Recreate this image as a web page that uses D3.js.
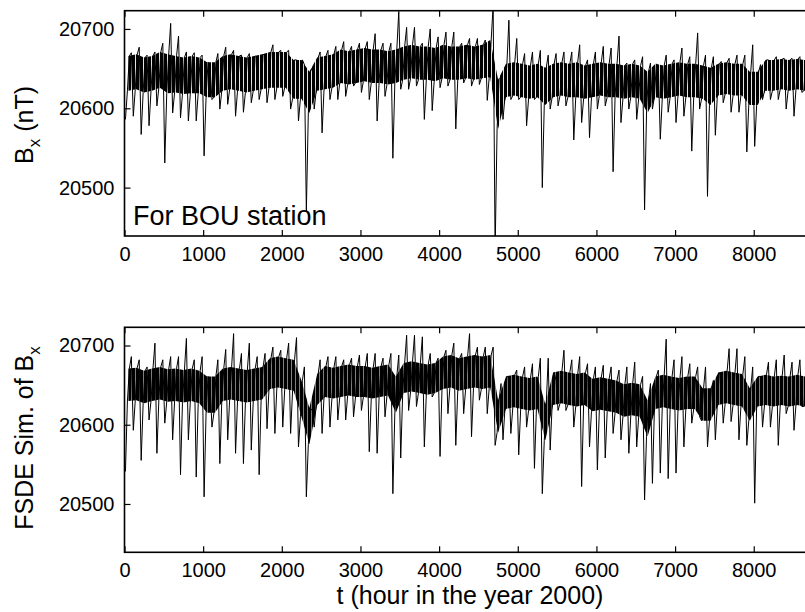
<!DOCTYPE html>
<html>
<head>
<meta charset="utf-8">
<script src="https://cdn.jsdelivr.net/npm/d3@7"></script>
<style>
  body { margin: 0; background: #fff; }
  svg { display: block; font-family: "Liberation Sans", Arial, Helvetica, sans-serif; }
</style>
</head>
<body>
<div id="chart"></div>
<script>
// hourly record binned per 100 h (bin start hours)
const hours = d3.range(0, 8800, 100);

// observed Bx at BOU (nT): extremes and dense core per bin
const bouMax = [20670,20677,20667,20671,20682,20707,20691,20671,20670,20667,
  20653,20669,20677,20673,20667,20669,20665,20667,20680,20673,
  20673,20661,20655,20651,20671,20673,20678,20684,20678,20682,
  20684,20694,20682,20682,20722,20702,20702,20682,20700,20690,
  20696,20696,20682,20688,20688,20686,20730,20640,20711,20688,
  20669,20671,20673,20667,20669,20671,20671,20680,20661,20671,
  20678,20676,20691,20657,20661,20665,20657,20653,20667,20661,
  20676,20665,20695,20667,20665,20659,20663,20667,20667,20680,
  20655,20661,20665,20663,20663,20665,20673,20670];
const bouMin = [20586,20590,20567,20578,20603,20531,20594,20588,20584,20584,
  20540,20611,20599,20605,20590,20595,20607,20611,20607,20611,
  20615,20599,20584,20470,20599,20569,20611,20611,20615,20628,
  20620,20611,20584,20615,20537,20624,20624,20628,20586,20597,
  20626,20628,20574,20632,20628,20630,20610,20420,20586,20611,
  20611,20578,20611,20500,20599,20603,20603,20560,20582,20563,
  20599,20603,20520,20582,20599,20586,20472,20599,20561,20595,
  20582,20590,20546,20599,20489,20566,20607,20595,20595,20545,
  20552,20611,20611,20611,20599,20590,20620,20615];
const bouCoreHi = [20666,20668,20664,20666,20671,20668,20666,20664,20666,20664,
  20658,20658,20666,20668,20666,20664,20666,20668,20671,20671,
  20671,20661,20661,20646,20664,20666,20668,20674,20672,20674,
  20676,20674,20674,20672,20674,20678,20680,20678,20678,20676,
  20680,20678,20678,20680,20678,20680,20686,20636,20656,20658,
  20656,20654,20656,20651,20656,20658,20656,20658,20654,20656,
  20658,20656,20656,20654,20656,20654,20646,20656,20654,20656,
  20658,20656,20656,20654,20651,20656,20658,20656,20656,20646,
  20646,20661,20661,20662,20661,20662,20661,20661];
const bouCoreLo = [20622,20624,20620,20622,20626,20619,20620,20618,20619,20619,
  20614,20614,20622,20624,20622,20620,20622,20624,20626,20626,
  20626,20612,20612,20594,20622,20624,20626,20632,20630,20632,
  20634,20632,20632,20630,20632,20636,20638,20636,20636,20634,
  20638,20636,20636,20638,20636,20638,20639,20574,20614,20616,
  20614,20612,20614,20604,20614,20616,20614,20614,20612,20614,
  20616,20614,20614,20612,20614,20612,20594,20614,20612,20614,
  20616,20614,20614,20612,20604,20616,20618,20616,20616,20604,
  20604,20622,20622,20624,20622,20624,20622,20622];

// FSDE simulation of Bx (nT)
const simMax = [20686,20682,20673,20703,20682,20686,20686,20709,20682,20686,
  20652,20682,20695,20715,20690,20703,20686,20690,20698,20694,
  20703,20710,20673,20618,20682,20686,20686,20682,20684,20688,
  20690,20690,20684,20690,20688,20713,20713,20711,20690,20684,
  20694,20703,20690,20715,20698,20698,20698,20652,20661,20669,
  20673,20677,20684,20684,20656,20694,20682,20686,20677,20673,
  20675,20673,20669,20673,20679,20661,20652,20669,20708,20682,
  20686,20677,20673,20673,20656,20661,20696,20696,20686,20673,
  20661,20679,20682,20688,20679,20682,20682,20680];
const simMin = [20541,20593,20555,20606,20564,20602,20581,20537,20581,20534,
  20509,20597,20551,20581,20564,20551,20568,20537,20595,20589,
  20597,20589,20572,20509,20597,20589,20597,20606,20606,20610,
  20618,20566,20564,20610,20513,20558,20618,20623,20572,20635,
  20560,20614,20574,20614,20585,20631,20614,20574,20581,20589,
  20562,20597,20545,20513,20568,20618,20618,20597,20522,20572,
  20543,20558,20589,20581,20564,20572,20505,20526,20539,20532,
  20539,20572,20602,20610,20572,20581,20602,20604,20581,20574,
  20501,20597,20597,20574,20614,20593,20623,20620];
const simCoreHi = [20671,20672,20668,20671,20673,20670,20671,20669,20671,20668,
  20661,20661,20671,20673,20671,20669,20671,20673,20684,20686,
  20684,20682,20656,20621,20664,20674,20672,20674,20676,20674,
  20674,20672,20674,20676,20661,20678,20680,20678,20676,20678,
  20686,20688,20684,20686,20688,20686,20688,20631,20661,20663,
  20661,20659,20661,20626,20666,20668,20666,20664,20666,20658,
  20660,20658,20656,20651,20653,20651,20631,20661,20663,20661,
  20659,20661,20661,20646,20646,20666,20668,20666,20664,20646,
  20661,20663,20661,20662,20661,20663,20661,20661];
const simCoreLo = [20630,20631,20627,20630,20632,20629,20630,20628,20630,20627,
  20615,20615,20630,20632,20630,20628,20630,20632,20645,20647,
  20645,20643,20610,20575,20625,20635,20633,20635,20637,20635,
  20635,20633,20635,20637,20615,20640,20642,20640,20638,20640,
  20645,20647,20643,20645,20647,20645,20647,20590,20620,20622,
  20620,20618,20620,20580,20625,20627,20625,20623,20625,20617,
  20619,20617,20615,20610,20612,20610,20585,20620,20622,20620,
  20618,20620,20620,20605,20605,20625,20627,20625,20623,20605,
  20623,20625,20623,20625,20623,20625,20623,20623];

const xTicks = [0, 1000, 2000, 3000, 4000, 5000, 6000, 7000, 8000];
const yTicks = [20500, 20600, 20700];

const W = 805, H = 612;
const svg = d3.select("#chart").append("svg")
  .attr("width", W)
  .attr("height", H);

// hairline texture for the dense part of each trace
const defs = svg.append("defs");
function hairPattern(id, black) {
  const p = defs.append("pattern")
    .attr("id", id)
    .attr("patternUnits", "userSpaceOnUse")
    .attr("width", 4)
    .attr("height", 20);
  p.append("rect")
    .attr("width", black)
    .attr("height", 20)
    .attr("fill", "#000");
}
hairPattern("hairTop", 3.1);
hairPattern("hairBot", 3.5);

const x = d3.scaleLinear().domain([0, 8784]).range([124.5, 815.4]);
const fmt = d3.format("d");

function drawPanel(top, height, maxV, minV, hiV, loV, id, fillId) {
  const y = d3.scaleLinear().domain([20439, 20723]).range([top + height, top]);
  const g = svg.append("g");

  g.append("clipPath").attr("id", id)
    .append("rect")
    .attr("x", x.range()[0]).attr("y", top)
    .attr("width", x.range()[1] - x.range()[0]).attr("height", height);

  const plot = g.append("g").attr("clip-path", `url(#${id})`);

  // dense core of the trace
  plot.append("path")
    .datum(hours)
    .attr("fill", `url(#${fillId})`)
    .attr("d", d3.area()
      .x(h => x(h + 50))
      .y0((h, i) => y(loV[i]))
      .y1((h, i) => y(hiV[i])));

  // trace through each bin: min -> core low -> core high -> max
  const pts = [];
  hours.forEach((h, i) => {
    pts.push([h + 12, minV[i]]);
    pts.push([h + 37, loV[i]]);
    pts.push([h + 62, hiV[i]]);
    pts.push([h + 87, maxV[i]]);
  });
  plot.append("path")
    .datum(pts)
    .attr("fill", "none")
    .attr("stroke", "#000")
    .attr("stroke-width", 1)
    .attr("d", d3.line().x(d => x(d[0])).y(d => y(d[1])));

  // axes with inward ticks
  const xb = g.append("g")
    .attr("transform", `translate(0,${top + height})`)
    .call(d3.axisBottom(x).tickValues(xTicks).tickFormat(fmt).tickSizeInner(-6).tickSizeOuter(0).tickPadding(10.5));
  const xt = g.append("g")
    .attr("transform", `translate(0,${top})`)
    .call(d3.axisTop(x).tickValues(xTicks).tickSizeInner(-6).tickSizeOuter(0).tickFormat(""));
  const yl = g.append("g")
    .attr("transform", `translate(${x.range()[0]},0)`)
    .call(d3.axisLeft(y).tickValues(yTicks).tickFormat(fmt).tickSizeInner(-6).tickSizeOuter(0).tickPadding(10));

  [xb, xt, yl].forEach(a => {
    a.select(".domain").remove();
    a.selectAll(".tick line").attr("stroke", "#000").attr("stroke-width", 1.2);
    a.selectAll("text")
      .attr("fill", "#000")
      .style("font-size", "20px")
      .style("font-family", "'Liberation Sans', Arial, sans-serif");
  });

  g.append("rect")
    .attr("x", x.range()[0]).attr("y", top)
    .attr("width", x.range()[1] - x.range()[0]).attr("height", height)
    .attr("fill", "none")
    .attr("stroke", "#000")
    .attr("stroke-width", 1.6);

  return y;
}

drawPanel(10.7, 225.3, bouMax, bouMin, bouCoreHi, bouCoreLo, "clipTop", "hairTop");
drawPanel(327.3, 225, simMax, simMin, simCoreHi, simCoreLo, "clipBot", "hairBot");

// y labels with subscript
function yLabel(cx, cy, main, rest) {
  const t = svg.append("text")
    .attr("transform", `translate(${cx},${cy}) rotate(-90)`)
    .attr("text-anchor", "middle")
    .style("font-size", "25px")
    .attr("fill", "#000");
  t.append("tspan").text(main);
  t.append("tspan").attr("dy", 7).style("font-size", "17px").text("x");
  if (rest) t.append("tspan").attr("dy", -7).text(rest);
}
yLabel(33, 125, "B", " (nT)");
yLabel(33, 438, "FSDE Sim. of B", "");

svg.append("text")
  .attr("x", 133)
  .attr("y", 225)
  .style("font-size", "27px")
  .attr("fill", "#000")
  .text("For BOU station");

svg.append("text")
  .attr("x", 470)
  .attr("y", 604)
  .attr("text-anchor", "middle")
  .style("font-size", "25px")
  .attr("fill", "#000")
  .text("t (hour in the year 2000)");
</script>
</body>
</html>
